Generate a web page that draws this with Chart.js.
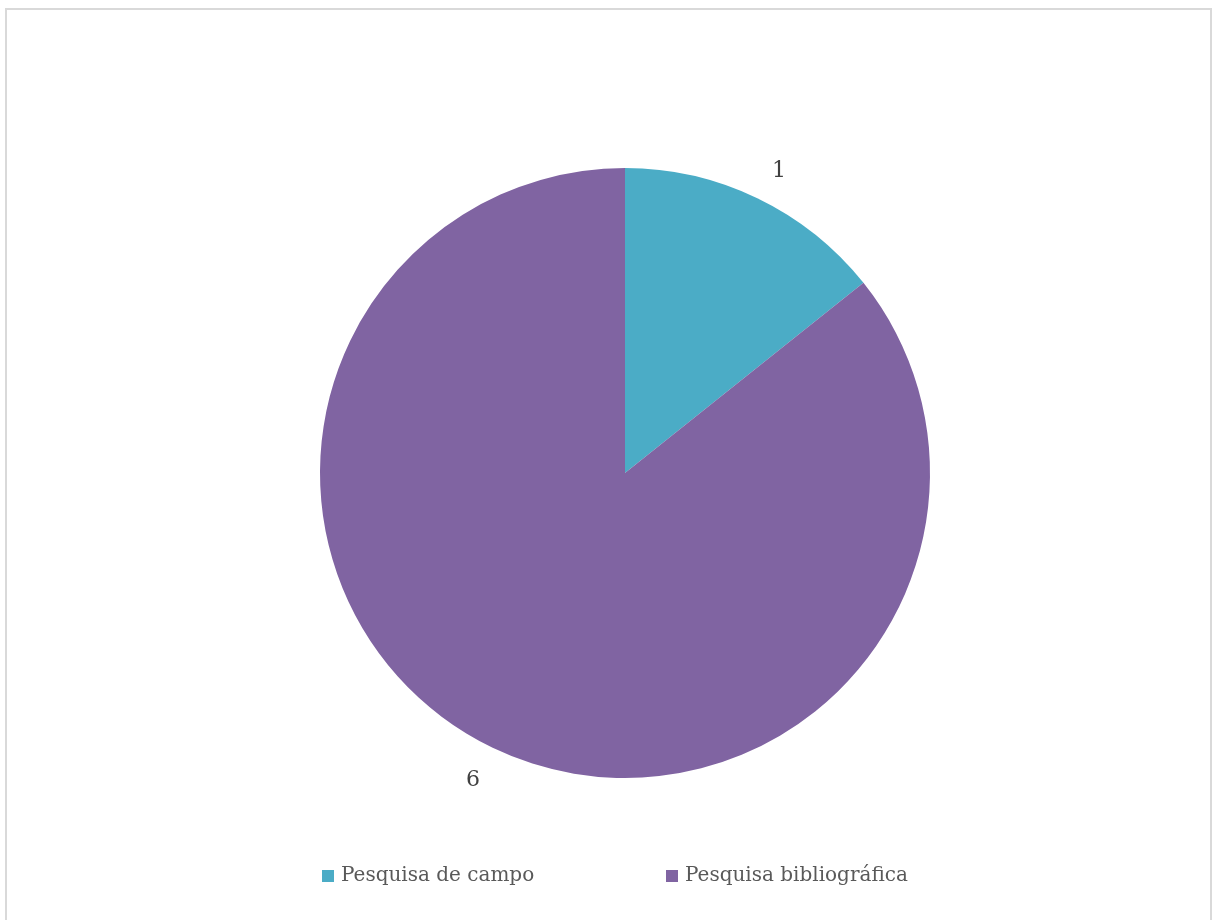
<!DOCTYPE html>
<html>
<head>
<meta charset="utf-8">
<script src="https://cdn.jsdelivr.net/npm/chart.js@4"></script>
<style>
    body { margin: 0; background: #ffffff; }
    #frame {
        position: absolute;
        left: 5px;
        top: 8px;
        width: 1203px;
        height: 930px;
        border: 2px solid #d9d9d9;
    }
    #wrap { position: absolute; left: 0; top: 0; width: 1212px; height: 920px; }
</style>
</head>
<body>
<div id="frame"></div>
<div id="wrap"><canvas id="myChart"></canvas></div>
<script>
let labels = ["Pesquisa de campo", "Pesquisa bibliográfica"];
let values = [1, 6];
let colors = ["#4BACC6", "#8064A2"];

// data labels outside of each slice
let outsideLabels = {
    id: "outsideLabels",
    afterDatasetsDraw: (chart) => {
        var ctx = chart.ctx;
        var meta = chart.getDatasetMeta(0);
        ctx.save();
        ctx.font = "22px 'DejaVu Serif'";
        ctx.fillStyle = "#404040";
        ctx.textAlign = "center";
        ctx.textBaseline = "middle";
        meta.data.forEach((arc, i) => {
            var mid = (arc.startAngle + arc.endAngle) / 2;
            var d = arc.outerRadius + 36;
            var x = arc.x + Math.cos(mid) * d;
            var y = arc.y + Math.sin(mid) * d;
            // excel nudges the label box a little sideways
            x += Math.cos(mid) > 0 ? 6 : -4;
            y += Math.sin(mid) < 0 ? 6 : 0;
            ctx.fillText(String(values[i]), x, y);
        });
        ctx.restore();
    },
};

// legend at the bottom, items spaced like the original
let bottomLegend = {
    id: "bottomLegend",
    afterDraw: (chart) => {
        var ctx = chart.ctx;
        var xs = [322, 666];
        var y = 876;
        ctx.save();
        ctx.font = "20px 'DejaVu Serif'";
        ctx.textBaseline = "middle";
        labels.forEach((label, i) => {
            ctx.fillStyle = colors[i];
            ctx.fillRect(xs[i], y - 6, 12, 12);
            ctx.fillStyle = "#595959";
            ctx.fillText(label, xs[i] + 19, y);
        });
        ctx.restore();
    },
};

let drawChart = () => {
    var ctx = document.getElementById("myChart").getContext("2d");
    var myChart = new Chart(ctx, {
        type: "pie",
        data: {
            labels: labels,
            datasets: [
                {
                    data: values,
                    backgroundColor: colors,
                    borderWidth: 0,
                },
            ],
        },
        options: {
            responsive: true,
            maintainAspectRatio: false,
            animation: false,
            layout: {
                padding: { top: 168, bottom: 142, left: 320, right: 282 },
            },
            plugins: {
                legend: { display: false },
                tooltip: { enabled: false },
            },
        },
        plugins: [outsideLabels, bottomLegend],
    });
};
drawChart();
</script>
</body>
</html>
